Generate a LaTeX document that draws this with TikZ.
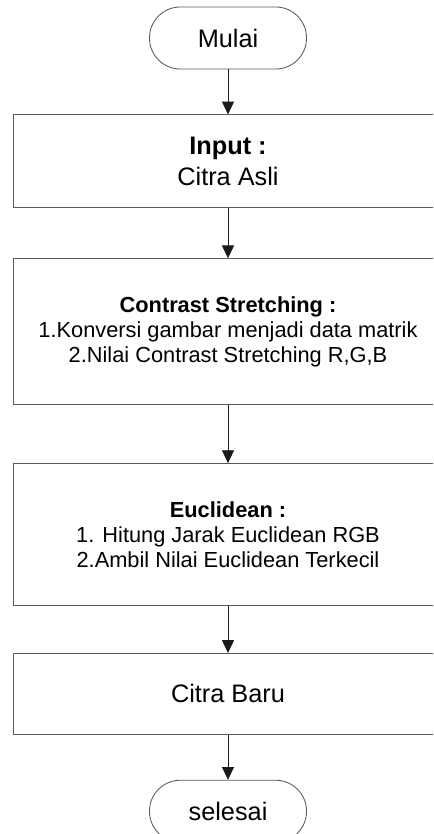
\documentclass[tikz,border=0pt]{standalone}
\usepackage{fontspec}
\setmainfont{Liberation Sans}
\usepackage{tikz}
\usetikzlibrary{arrows.meta,positioning}
\definecolor{framegray}{HTML}{5A5A5A}
\definecolor{flowblack}{HTML}{1A1A1A}
\newcommand{\bigtxt}{\fontsize{18}{21.6}\selectfont}
\newcommand{\midtxt}{\fontsize{15.5}{17.8}\selectfont}

\begin{document}
\begin{tikzpicture}[every node/.style={align=center}, >={Triangle[length=3.2mm,width=3mm]},
  term/.style={draw=framegray, line width=0.6pt, rounded corners=0.77cm, minimum width=3.925cm, minimum height=1.55cm, font=\bigtxt},
  procbox/.style={draw=framegray, line width=0.6pt, minimum width=10.75cm, inner sep=2pt},
  flow/.style={->, draw=flowblack, line width=0.6pt}]
  \useasboundingbox (0,0) rectangle (10.825,-20.85);
  \clip (0,0) rectangle (10.825,-20.85);
  \node[term] (mulai) at (5.7,-0.95) {Mulai};
  \node[procbox, minimum height=2.325cm, font=\bigtxt, below=1.125cm of mulai] (input) {\textbf{Input :}\\Citra Asli};
  \node[procbox, minimum height=3.65cm, font=\midtxt, below=1.25cm of input] (contrast) {\textbf{Contrast Stretching :}\\1.Konversi gambar menjadi data matrik\\2.Nilai Contrast Stretching R,G,B};
  \node[procbox, minimum height=3.55cm, font=\midtxt, below=1.45cm of contrast] (euclid) {\textbf{Euclidean :}\\1. Hitung Jarak Euclidean RGB\\2.Ambil Nilai Euclidean Terkecil};
  \node[procbox, minimum height=2.025cm, font=\bigtxt, below=1.175cm of euclid] (baru) {Citra Baru};
  \node[term, below=1.125cm of baru] (selesai) {selesai};
  \draw[flow] (mulai) -- (input);
  \draw[flow] (input) -- (contrast);
  \draw[flow] (contrast) -- (euclid);
  \draw[flow] (euclid) -- (baru);
  \draw[flow] (baru) -- (selesai);
\end{tikzpicture}
\end{document}
